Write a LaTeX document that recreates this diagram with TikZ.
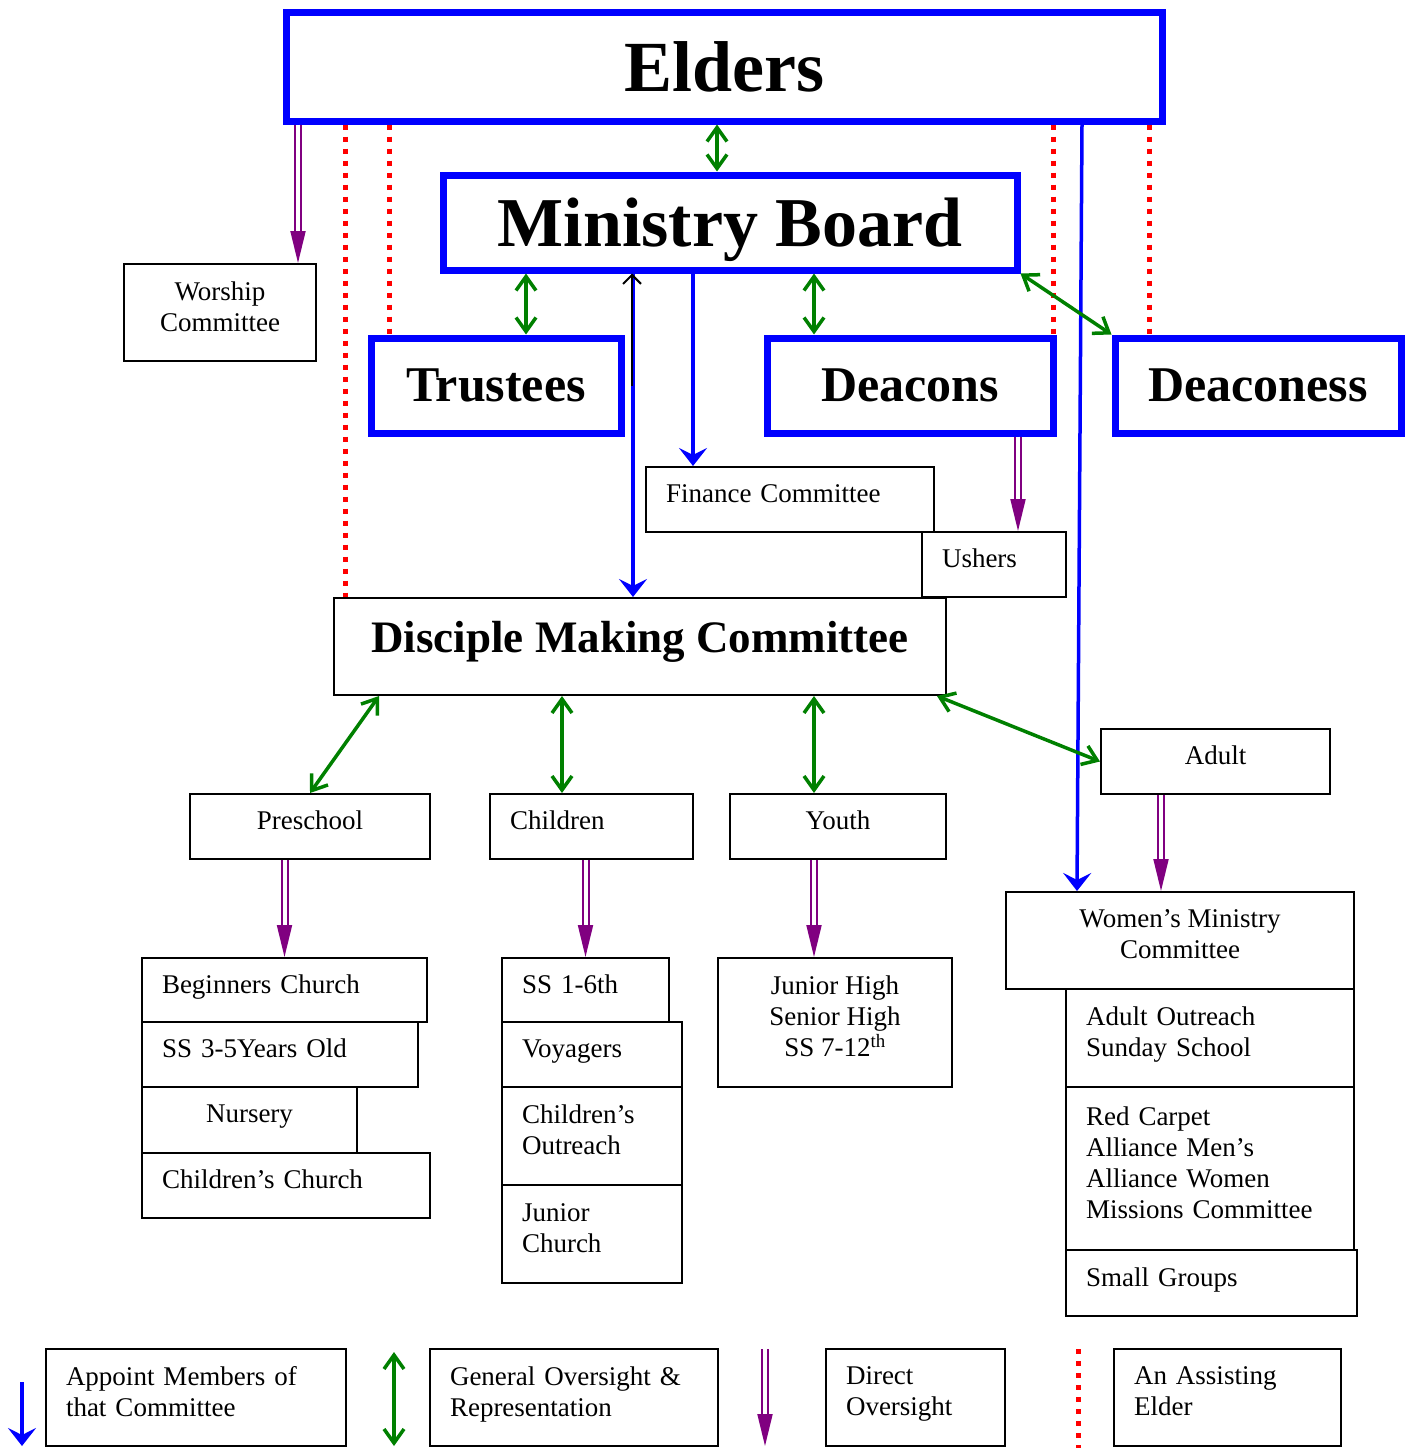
\documentclass[tikz,border=0pt]{standalone}
\usepackage{fontspec}
\setmainfont{Liberation Serif}
\usetikzlibrary{arrows.meta,positioning}
\definecolor{ogreen}{RGB}{0,128,0}
\definecolor{opurple}{RGB}{128,0,128}

\begin{document}
\begin{tikzpicture}[x=1pt,y=-1pt,
    blue node/.style={draw=blue,line width=7pt,inner sep=0pt,font=\bfseries\fontsize{50}{56}\selectfont},
    box node/.style={draw,line width=2pt,inner sep=0pt,font=\fontsize{27}{31}\selectfont},
    main node/.style={box node,align=center,execute at end node={\rule[-12pt]{0pt}{12pt}}},
    left node/.style={main node,align=left,inner xsep=20pt,text width=#1},
    appoint/.style={draw=blue,line width=3.5pt,-{Stealth[length=18pt,width=28pt,inset=7pt]}},
    oversee/.style={draw=ogreen,line width=3.5pt,{Straight Barb[length=14pt,width=20pt]}-{Straight Barb[length=14pt,width=20pt]}},
    direct/.style={draw=opurple,double=white,double distance=4pt,line width=2pt,-{Triangle[length=32pt,width=15pt]}},
    assist/.style={draw=red,line width=5pt,dash pattern=on 5pt off 7pt}]

  \useasboundingbox (0,0) rectangle (1414,1448);

  \node[blue node,minimum width=876pt,minimum height=109pt,font=\bfseries\fontsize{72}{80}\selectfont] (elders) at (724,66.5) {Elders};
  \node[blue node,minimum width=574pt,minimum height=95pt,text depth=0pt,font=\bfseries\fontsize{70}{78}\selectfont] (board) at (730,222.5) {Ministry Board};
  \node[blue node,minimum width=250pt,minimum height=95pt] (trustees) at (496,385.5) {Trustees};
  \node[blue node,minimum width=286pt,minimum height=95pt] (deacons) at (910,385.5) {Deacons};
  \node[blue node,minimum width=286pt,minimum height=95pt] (deaconess) at (1258,385.5) {Deaconess};

  \node[main node,minimum width=192pt,minimum height=97pt] (worship) at (220,312.5) {Worship\\Committee};
  \node[left node=248pt,minimum height=65pt] (finance) at (790,499.5) {Finance Committee};
  \node[left node=104pt,minimum height=65pt] (ushers) at (994,564.5) {Ushers};
  \node[box node,minimum width=612pt,minimum height=97pt,text depth=20pt,font=\bfseries\fontsize{45}{50}\selectfont] (dmc) at (640,646.5) {Disciple Making Committee};

  \node[main node,minimum width=240pt,minimum height=65pt] (preschool) at (310,826.5) {Preschool};
  \node[left node=163pt,minimum height=65pt] (children) at (591.5,826.5) {Children};
  \node[main node,minimum width=216pt,minimum height=65pt] (youth) at (838,826.5) {Youth};
  \node[main node,minimum width=229pt,minimum height=65pt] (adult) at (1215.5,761.5) {Adult};

  \node[left node=245pt,minimum height=64pt] (beginners) at (284.5,990) {Beginners Church};
  \node[left node=236pt,minimum height=65pt,below=-2pt of beginners.south west,anchor=north west] (ss35) {SS 3-5Years Old};
  \node[main node,minimum width=215pt,minimum height=66pt,below=-2pt of ss35.south west,anchor=north west] (nursery) {Nursery};
  \node[left node=248pt,minimum height=65pt,below=-2pt of nursery.south west,anchor=north west] (chchurch) {Children’s Church};

  \node[left node=127pt,minimum height=64pt] (ss16) at (585.5,990) {SS 1-6th};
  \node[left node=140pt,minimum height=65pt,below=-2pt of ss16.south west,anchor=north west] (voyagers) {Voyagers};
  \node[left node=140pt,minimum height=98pt,below=-2pt of voyagers.south west,anchor=north west] (choutreach) {Children’s\\Outreach};
  \node[left node=140pt,minimum height=98pt,below=-2pt of choutreach.south west,anchor=north west] (jrchurch) {Junior\\Church};

  \node[main node,minimum width=234pt,minimum height=129pt] (jrhigh) at (835,1022.5) {Junior High\\Senior High\\SS 7-12\textsuperscript{th}};

  \node[main node,minimum width=348pt,minimum height=97pt] (women) at (1180,940.5) {Women’s Ministry\\Committee};
  \node[left node=248pt,minimum height=98pt,below=-2pt of women.south east,anchor=north east] (adoutreach) {Adult Outreach\\Sunday School};
  \node[left node=248pt,minimum height=163pt,below=-2pt of adoutreach.south east,anchor=north east] (redcarpet) {Red Carpet\\Alliance Men’s\\Alliance Women\\Missions Committee};
  \node[left node=251pt,minimum height=66pt,below=-2pt of redcarpet.south west,anchor=north west] (smallgroups) {Small Groups};

  \node[left node=260pt,minimum height=97pt] (key1) at (196,1397.5) {Appoint Members of\\that Committee};
  \node[left node=248pt,minimum height=97pt] (key2) at (574,1397.5) {General Oversight \&\\Representation};
  \node[left node=139pt,minimum height=97pt] (key3) at (915.5,1397.5) {Direct\\Oversight};
  \node[left node=187pt,minimum height=97pt] (key4) at (1227.5,1397.5) {An Assisting\\Elder};

  \coordinate (a1) at (22,1382);
  \coordinate (a2) at (22,1446);
  \coordinate (g1) at (394,1352);
  \coordinate (g2) at (394,1446);
  \coordinate (p1) at (765,1349);
  \coordinate (p2) at (765,1446);
  \coordinate (r1) at (1078,1349);
  \coordinate (r2) at (1078,1448);

  \draw[assist] ([xshift=12pt]dmc.north west |- elders.south) -- ([xshift=12pt]dmc.north west);
  \draw[assist] ([xshift=21.5pt]trustees.north west |- elders.south) -- ([xshift=21.5pt]trustees.north west);
  \draw[assist] ([xshift=-3pt]deacons.north east |- elders.south) -- ([xshift=-3pt]deacons.north east);
  \draw[assist] ([xshift=37.5pt]deaconess.north west |- elders.south) -- ([xshift=37.5pt]deaconess.north west);
  \draw[assist] (r1) -- (r2);

  \draw[appoint] ([xshift=-97pt]board.south) -- ([xshift=-97pt]board.south |- dmc.north);
  \draw[appoint] ([xshift=-97pt]finance.north |- board.south) -- ([xshift=-97pt]finance.north);
  \draw[appoint] ([xshift=358pt]elders.south) -- ([xshift=-103pt]women.north);
  \draw[appoint] (a1) -- (a2);
  \draw[line width=2pt,-{Straight Barb[length=9pt,width=18pt]}] ([xshift=-98pt]board.south |- deacons.east) -- ([xshift=-98pt]board.south);

  \draw[oversee] ([xshift=-13pt]board.north |- elders.south) -- ([xshift=-13pt]board.north);
  \draw[oversee] ([xshift=30pt]trustees.north |- board.south) -- ([xshift=30pt]trustees.north);
  \draw[oversee] ([xshift=-96pt]deacons.north |- board.south) -- ([xshift=-96pt]deacons.north);
  \draw[oversee] (board.south east) -- (deaconess.north west);
  \draw[oversee] ([xshift=46pt]dmc.south west) -- (preschool.north);
  \draw[oversee] ([xshift=-29.5pt]children.north |- dmc.south) -- ([xshift=-29.5pt]children.north);
  \draw[oversee] ([xshift=-24pt]youth.north |- dmc.south) -- ([xshift=-24pt]youth.north);
  \draw[oversee] ([xshift=-10pt]dmc.south east) -- (adult.west);
  \draw[oversee] (g1) -- (g2);

  \draw[direct] ([xshift=-19pt]worship.north east |- elders.south) -- ([xshift=-19pt]worship.north east);
  \draw[direct] ([xshift=24pt]ushers.north |- deacons.south) -- ([xshift=24pt]ushers.north);
  \draw[direct] (preschool.south -| beginners.north) -- (beginners.north);
  \draw[direct] (children.south -| ss16.north) -- (ss16.north);
  \draw[direct] ([xshift=-21pt]jrhigh.north |- youth.south) -- ([xshift=-21pt]jrhigh.north);
  \draw[direct] ([xshift=-19pt]women.north |- adult.south) -- ([xshift=-19pt]women.north);
  \draw[direct] (p1) -- (p2);
\end{tikzpicture}
\end{document}
